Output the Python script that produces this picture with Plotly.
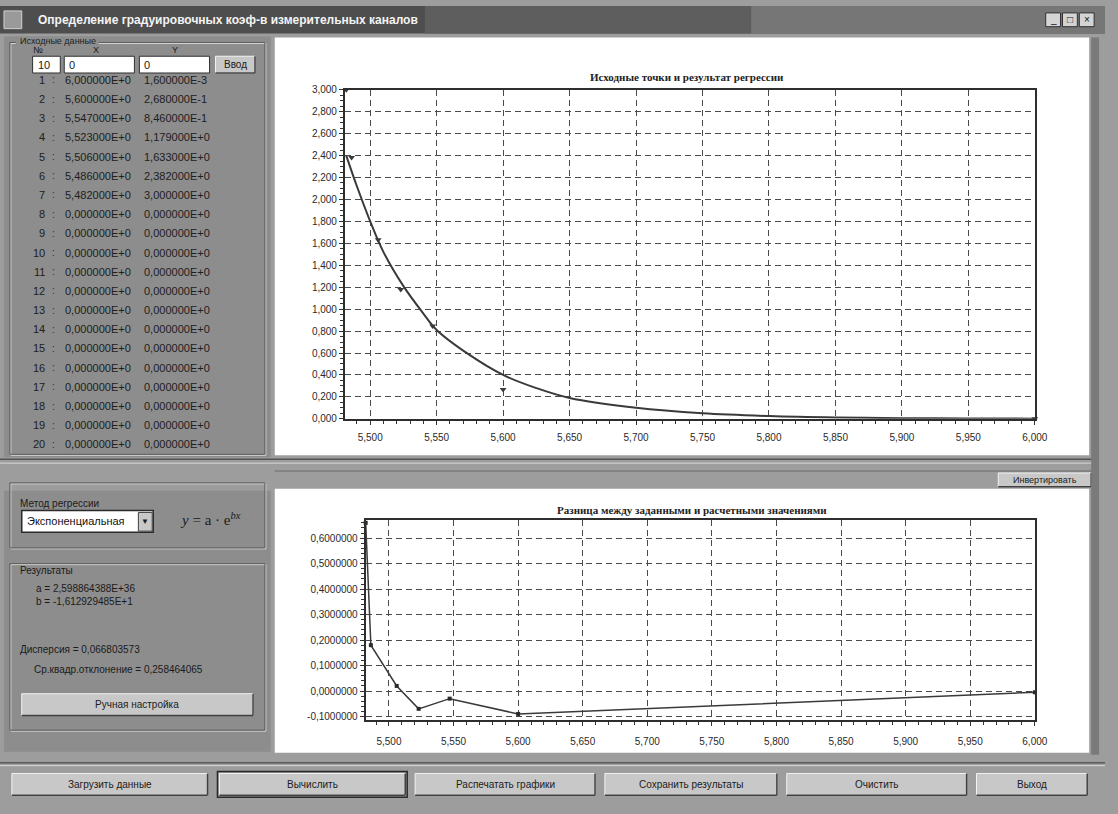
import math
import plotly.graph_objects as go

W, H = 1118, 814

# ---------------- data ----------------
point_x = [6.000, 5.600, 5.547, 5.523, 5.506, 5.486, 5.482]
point_y = [0.0016, 0.268, 0.846, 1.179, 1.633, 2.382, 3.000]

curve_x = [5.482, 5.490, 5.500, 5.510, 5.525, 5.540, 5.550, 5.575, 5.600,
           5.625, 5.650, 5.700, 5.750, 5.800, 5.850, 5.900, 5.950, 6.000]
curve_y = [2.40, 2.12, 1.80, 1.52, 1.21, 0.96, 0.81, 0.58, 0.40,
           0.28, 0.19, 0.10, 0.05, 0.025, 0.012, 0.006, 0.003, 0.0015]

resid_x = [5.482, 5.486, 5.506, 5.523, 5.547, 5.600, 6.000]
resid_y = [0.66, 0.18, 0.02, -0.07, -0.03, -0.09, -0.005]

top_xticks = [5.50, 5.55, 5.60, 5.65, 5.70, 5.75, 5.80, 5.85, 5.90, 5.95, 6.00]
top_xtext = ["5,500", "5,550", "5,600", "5,650", "5,700", "5,750", "5,800",
             "5,850", "5,900", "5,950", "6,000"]
top_yticks = [0.0, 0.2, 0.4, 0.6, 0.8, 1.0, 1.2, 1.4, 1.6, 1.8, 2.0, 2.2,
              2.4, 2.6, 2.8, 3.0]
top_ytext = ["0,000", "0,200", "0,400", "0,600", "0,800", "1,000", "1,200",
             "1,400", "1,600", "1,800", "2,000", "2,200", "2,400", "2,600",
             "2,800", "3,000"]
bot_yticks = [-0.1, 0.0, 0.1, 0.2, 0.3, 0.4, 0.5, 0.6]
bot_ytext = ["-0,1000000", "0,0000000", "0,1000000", "0,2000000",
             "0,3000000", "0,4000000", "0,5000000", "0,6000000"]

top_title = "Исходные точки и результат регрессии"
bot_title = "Разница между заданными и расчетными значениями"
window_title = "Определение градуировочных коэф-в измерительных каналов"

coef_a = "a = 2,598864388E+36"
coef_b = "b = -1,612929485E+1"
dispersion = "Дисперсия = 0,066803573"
std_dev = "Ср.квадр.отклонение = 0,258464065"

button_labels = ["Загрузить данные", "Вычислить", "Распечатать графики",
                 "Сохранить результаты", "Очистить", "Выход"]

# table of 20 rows
table_x = point_x + [0.0] * 13
table_y = point_y + [0.0] * 13


def fmt(v):
    if v == 0:
        return "0,000000E+0"
    e = int(math.floor(math.log10(abs(v))))
    m = v / 10 ** e
    return f"{m:.6f}".replace(".", ",") + ("E+" if e >= 0 else "E-") + str(abs(e))


# ---------------- helpers (pixel -> paper) ----------------
def X(px):
    return px / W


def Y(py):
    return 1 - py / H


shapes = []
annots = []


def rect(x0, y0, x1, y1, fill=None, line=None, lw=1, layer="below", dash=None):
    d = dict(type="rect", xref="paper", yref="paper", x0=X(x0), x1=X(x1),
             y0=Y(y1), y1=Y(y0), layer=layer,
             line=dict(color=line if line else "rgba(0,0,0,0)", width=lw if line else 0))
    if dash:
        d["line"]["dash"] = dash
    if fill:
        d["fillcolor"] = fill
    shapes.append(d)


def hline(x0, x1, y, color, lw=1):
    shapes.append(dict(type="line", xref="paper", yref="paper", x0=X(x0), x1=X(x1),
                       y0=Y(y), y1=Y(y), layer="below", line=dict(color=color, width=lw)))


def vline(x, y0, y1, color, lw=1):
    shapes.append(dict(type="line", xref="paper", yref="paper", x0=X(x), x1=X(x),
                       y0=Y(y0), y1=Y(y1), layer="below", line=dict(color=color, width=lw)))


def text(x, y, s, size=11, color="#1a1a1a", anchor="left", family="Liberation Sans", bold=False):
    if bold:
        s = "<b>" + s + "</b>"
    annots.append(dict(xref="paper", yref="paper", x=X(x), y=Y(y), text=s,
                       showarrow=False, xanchor=anchor, yanchor="middle",
                       font=dict(size=size, color=color, family=family)))


def etched(x0, y0, x1, y1):
    rect(x0 + 1, y0 + 1, x1 + 1, y1 + 1, line="#d8d8d8", lw=1)
    rect(x0, y0, x1, y1, line="#5c5c5c", lw=1)


def button(x0, y0, x1, y1, label, size=10, strong=False):
    rect(x0, y0, x1, y1, fill="#c8c8c8", line="#f2f2f2", lw=1)
    hline(x0, x1, y1, "#404040", 1.5)
    vline(x1, y0, y1, "#404040", 1.5)
    if strong:
        rect(x0 - 2, y0 - 2, x1 + 2, y1 + 2, line="#2a2a2a", lw=1.5)
    text((x0 + x1) / 2, (y0 + y1) / 2, label, size=size, anchor="center", color="#202020")


# ---------------- window chrome ----------------
# title bar
rect(0, 0, 1118, 28, fill="#4e4e4e")
rect(430, 0, 760, 28, fill="#5e5e5e")
rect(760, 0, 1118, 28, fill="#767676")
rect(4, 5, 22, 23, fill="#9a9a9a", line="#d0d0d0")
text(36, 14, window_title, size=12, color="#f4f4f4", bold=True)
for i, g in enumerate(["_", "□", "×"]):
    bx = 1058 + i * 17
    rect(bx, 7, bx + 15, 21, fill="#d4d4d4", line="#303030")
    text(bx + 7.5, 14, g, size=10, anchor="center", color="#111")

# left panels background
rect(4, 31, 274, 458, fill="#8d8d8d")
rect(4, 492, 274, 757, fill="#8d8d8d")

# group box: input data
etched(10, 37, 268, 455)
rect(16, 31, 100, 42, fill="#8d8d8d")
text(18, 36, "Исходные данные", size=9, color="#1e1e1e")
text(38, 45, "№", size=9, anchor="center")
text(97, 45, "X", size=9, anchor="center")
text(177, 45, "Y", size=9, anchor="center")
rect(33, 51, 61, 68, fill="#ffffff", line="#303030")
text(36, 59.5, "10", size=11)
rect(65, 51, 136, 68, fill="#ffffff", line="#303030")
text(68, 59.5, "0", size=11)
rect(141, 51, 212, 68, fill="#ffffff", line="#303030")
text(144, 59.5, "0", size=11)
button(218, 51, 258, 68, "Ввод", size=10)

row_y0, row_dy = 75, 19.47
for i in range(20):
    ry = row_y0 + i * row_dy
    text(48, ry, str(i + 1), size=11, anchor="right", color="#202020")
    text(54, ry, ":", size=10, anchor="center", color="#303030")
    text(64, ry, fmt(table_x[i]), size=11, color="#202020")
    text(144, ry, fmt(table_y[i]), size=11, color="#202020")

# splitter between charts
hline(0, 1110, 460, "#555555", 1.5)
hline(0, 1110, 464, "#d8d8d8", 1)
hline(278, 1110, 472, "#6a6a6a", 1)
button(1010, 474, 1104, 488, "Инвертировать", size=9)

# group box: regression method
etched(10, 484, 268, 550)
text(18, 505, "Метод регрессии", size=10)
rect(22, 512, 155, 534, fill="#ffffff", line="#2a2a2a", lw=1.5)
text(25, 523, "Экспоненциальная", size=11, color="#111")
rect(140, 514, 154, 533, fill="#c8c8c8", line="#404040")
text(147, 523, "▼", size=8, anchor="center")
text(180, 521, "<i>y</i> = a · e<sup><i>bx</i></sup>", size=15, family="Liberation Serif", color="#202020")

# group box: results
etched(10, 566, 268, 735)
rect(16, 568, 72, 578, fill="#8d8d8d")
text(18, 573, "Результаты", size=10)
text(34, 591, coef_a, size=10)
text(34, 604, coef_b, size=10)
text(18, 653, dispersion, size=10)
text(32, 673, std_dev, size=10)
button(22, 698, 256, 720, "Ручная настройка", size=10)

# chart panels
rect(278, 32, 1102, 456, fill="#ffffff")
rect(278, 490, 1102, 758, fill="#ffffff")
rect(1104, 32, 1112, 760, fill="#7a7a7a")

# bottom button bar
hline(0, 1118, 768, "#5a5a5a", 1.5)
hline(0, 1118, 771, "#d8d8d8", 1)
btn_x = [(12, 210), (222, 410), (420, 602), (612, 786), (796, 978), (988, 1100)]
for (bx0, bx1), lab in zip(btn_x, button_labels):
    button(bx0, 779, bx1, 801, lab, size=10, strong=(lab == "Вычислить"))

# chart titles
text(695, 72, top_title, size=11, anchor="center", family="Liberation Serif", bold=True, color="#222")
text(700, 512, bot_title, size=11, anchor="center", family="Liberation Serif", bold=True, color="#222")

# ---------------- figure ----------------
fig = go.Figure()

fig.add_trace(go.Scatter(x=curve_x, y=curve_y, mode="lines", xaxis="x", yaxis="y",
                         line=dict(color="#3a3a3a", width=2, shape="spline"),
                         showlegend=False, hoverinfo="x+y"))
fig.add_trace(go.Scatter(x=point_x, y=point_y, mode="markers", xaxis="x", yaxis="y",
                         marker=dict(symbol="triangle-down", size=6, color="#3a3a3a"),
                         showlegend=False, cliponaxis=False))
fig.add_trace(go.Scatter(x=resid_x, y=resid_y, mode="lines+markers", xaxis="x2", yaxis="y2",
                         line=dict(color="#3a3a3a", width=1.5),
                         marker=dict(symbol="square", size=4, color="#2a2a2a"),
                         showlegend=False, cliponaxis=False))

axis_common = dict(showline=True, linewidth=2, linecolor="#2e2e2e", mirror=True,
                   showgrid=True, gridcolor="#4a4a4a", griddash="6px,4px", gridwidth=1,
                   ticks="outside", ticklen=4, tickcolor="#333", zeroline=False,
                   tickfont=dict(size=10, color="#2a2a2a", family="Liberation Sans"),
                   tickmode="array")

fig.update_layout(
    width=W, height=H,
    margin=dict(l=0, r=0, t=0, b=0),
    paper_bgcolor="#9d9d9d",
    plot_bgcolor="#ffffff",
    shapes=shapes,
    annotations=annots,
    xaxis=dict(domain=[X(349), X(1047)], range=[5.481, 6.0], anchor="y",
               tickvals=top_xticks, ticktext=top_xtext, ticklabelstandoff=4,
               minor=dict(ticks="outside", ticklen=3, dtick=0.01, tick0=5.5, tickcolor="#333",
                          showgrid=False),
               **axis_common),
    yaxis=dict(domain=[Y(419), Y(85)], range=[0, 3.0], anchor="x",
               tickvals=top_yticks, ticktext=top_ytext,
               minor=dict(ticks="outside", ticklen=3, dtick=0.05, tick0=0, tickcolor="#333",
                          showgrid=False),
               **axis_common),
    xaxis2=dict(domain=[X(370), X(1047)], range=[5.482, 6.0], anchor="y2",
                tickvals=top_xticks, ticktext=top_xtext, ticklabelstandoff=7,
                minor=dict(ticks="outside", ticklen=3, dtick=0.01, tick0=5.5, tickcolor="#333",
                           showgrid=False),
                **axis_common),
    yaxis2=dict(domain=[Y(725), Y(522)], range=[-0.115, 0.67], anchor="x2",
                tickvals=bot_yticks, ticktext=bot_ytext,
                minor=dict(ticks="outside", ticklen=3, dtick=0.02, tick0=0, tickcolor="#333",
                           showgrid=False),
                **axis_common),
)

fig.write_html("out.html", config={"displayModeBar": False},
               post_script="document.body.style.margin='0';")
